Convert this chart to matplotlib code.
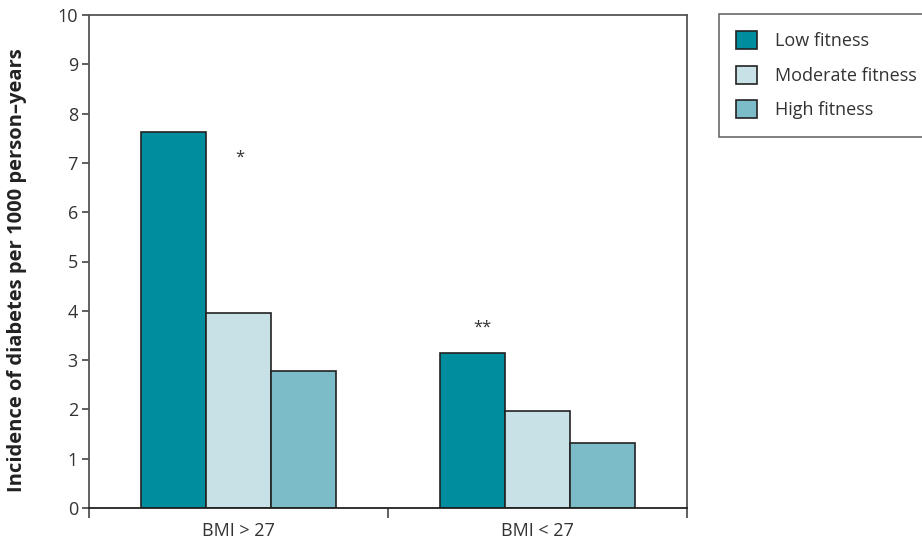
import numpy as np
import matplotlib
matplotlib.use("Agg")
import matplotlib.pyplot as plt
from matplotlib.patches import Patch

plt.rcParams['font.family'] = ['Open Sans', 'DejaVu Sans']

groups = ["BMI > 27", "BMI < 27"]
series = ["Low fitness", "Moderate fitness", "High fitness"]
values = {
    "Low fitness": [7.62, 3.15],
    "Moderate fitness": [3.95, 1.96],
    "High fitness": [2.78, 1.32],
}
colors = ["#008e9e", "#c8e1e6", "#7bbcc8"]
stars = ["*", "**"]
star_x = [0.505, 1.315]
star_y = [7.1, 3.65]

fig = plt.figure(figsize=(9.22, 5.48), dpi=100)
ax = fig.add_axes([89 / 922, 1 - 508 / 548, (687 - 89) / 922, (508 - 15) / 548])

width = 0.2175
centers = np.arange(len(groups)) + 0.5
for i, name in enumerate(series):
    ax.bar(centers + (i - 1) * width, values[name], width=width,
           color=colors[i], edgecolor="#222222", linewidth=1.2)

for sx, sy, s in zip(star_x, star_y, stars):
    ax.text(sx, sy, s, ha="center", va="center", fontsize=12, color="#333333")

ax.set_xlim(0, 2)
ax.set_ylim(0, 10)
ax.set_yticks(range(0, 11))
ax.set_xticks([0, 1, 2])
ax.set_xticklabels([])
ax.set_xticks(centers, minor=True)
ax.set_xticklabels(groups, minor=True)
ax.tick_params(axis="x", which="minor", length=0, pad=10, labelsize=13, colors="#333333")
ax.tick_params(axis="x", which="major", length=7, width=1.2, color="#444444", direction="out")
ax.tick_params(axis="y", length=5, width=1.2, color="#444444", labelsize=13, labelcolor="#333333", pad=3)
for side in ["top", "right", "left"]:
    ax.spines[side].set_color("#555555")
    ax.spines[side].set_linewidth(1.3)
ax.spines["bottom"].set_color("#222222")
ax.spines["bottom"].set_linewidth(1.3)

ax.set_ylabel("Incidence of diabetes per 1000 person\u2013years", fontsize=14.5,
              fontweight="bold", color="#222222")
ax.yaxis.set_label_coords(-0.103, 0.483)

handles = [Patch(facecolor=c, edgecolor="#222222", linewidth=1.2) for c in colors]
leg = fig.legend(handles, series, loc="upper left", bbox_to_anchor=(719 / 922, 1 - 14 / 548),
                 fontsize=13, frameon=True, fancybox=False, borderaxespad=0,
                 handlelength=1.17, handleheight=1.17, handletextpad=1.0,
                 labelspacing=0.85, borderpad=0.95)
leg.get_frame().set_edgecolor("#444444")
leg.get_frame().set_linewidth(1.2)
for t in leg.get_texts():
    t.set_color("#333333")

fig.savefig("out.png", dpi=100)
